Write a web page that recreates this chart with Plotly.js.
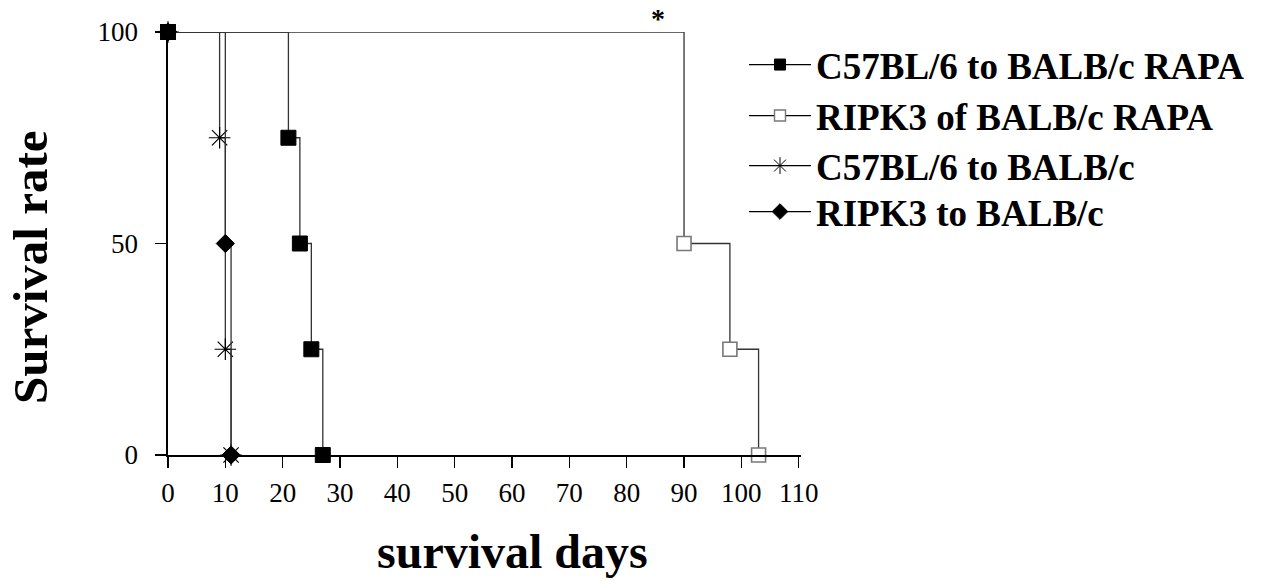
<!DOCTYPE html>
<html>
<head>
<meta charset="utf-8">
<script src="https://cdn.plot.ly/plotly-3.0.1.min.js"></script>
<style>
  html, body { margin: 0; padding: 0; background: #ffffff; }
  #chart { width: 1264px; height: 581px; }
</style>
</head>
<body>
<div id="chart"></div>
<script>
// ---- data ----
const seriesNames = [
  'C57BL/6 to BALB/c RAPA',
  'RIPK3 of BALB/c RAPA',
  'C57BL/6 to BALB/c',
  'RIPK3 to BALB/c'
];
const c57RapaDays = [0, 21, 23, 25, 27];
const c57RapaSurvival = [100, 75, 50, 25, 0];
const ripk3RapaDays = [0, 90, 98, 103];
const ripk3RapaSurvival = [100, 50, 25, 0];
const c57Days = [0, 9, 10, 11];
const c57Survival = [100, 75, 25, 0];
const ripk3Days = [0, 10, 11];
const ripk3Survival = [100, 50, 0];
const xTicks = [0, 10, 20, 30, 40, 50, 60, 70, 80, 90, 100, 110];
const yTicks = [0, 50, 100];
const xTitle = 'survival days';
const yTitle = 'Survival rate';
const significanceMark = { day: 85.5, text: '*' };

// ---- styling ----
const LINE = { color: '#333333', width: 1.3, shape: 'hv' };
const serif = '"Liberation Serif", "Times New Roman", Times, serif';

const markerStyles = [
  { symbol: 'square', size: 15, color: '#000000', line: { color: '#000000', width: 1 } },
  { symbol: 'square', size: 14, color: '#ffffff', line: { color: '#777777', width: 1.6 } },
  { symbol: 'asterisk-open', size: 18, color: '#000000', line: { color: '#000000', width: 1.2 } },
  { symbol: 'diamond', size: 14, color: '#000000', line: { color: '#000000', width: 1 } }
];
const legendMarkerStyles = [
  { symbol: 'square', size: 11, color: '#000000', line: { color: '#000000', width: 1 } },
  { symbol: 'square', size: 11, color: '#ffffff', line: { color: '#777777', width: 1.4 } },
  { symbol: 'asterisk-open', size: 14, color: '#000000', line: { color: '#000000', width: 1 } },
  { symbol: 'diamond', size: 12, color: '#000000', line: { color: '#000000', width: 1 } }
];

const xs = [c57RapaDays, ripk3RapaDays, c57Days, ripk3Days];
const ys = [c57RapaSurvival, ripk3RapaSurvival, c57Survival, ripk3Survival];

// plot area in pixels (used only for placing legend/titles)
const M = { l: 168, r: 463, t: 32, b: 126 };
const PW = 1264 - M.l - M.r, PH = 581 - M.t - M.b;
const px2x = function (px) { return (px - M.l) / PW; };
const px2y = function (py) { return (581 - M.b - py) / PH; };

const legendIds = ['legend', 'legend2', 'legend3', 'legend4'];
const legendRowY = [65, 116, 166, 212];

const traces = [];
[1, 2, 3, 0].forEach(function (i) {
  traces.push({
    type: 'scatter', mode: 'lines+markers',
    x: xs[i], y: ys[i], name: seriesNames[i],
    line: LINE, marker: markerStyles[i],
    cliponaxis: false, showlegend: false, hoverinfo: 'x+y+name'
  });
});
seriesNames.forEach(function (n, i) {
  traces.push({
    type: 'scatter', mode: 'lines+markers',
    x: [null], y: [null], name: n,
    line: { color: '#000000', width: 1.3 },
    marker: legendMarkerStyles[i],
    showlegend: true, legend: legendIds[i]
  });
});

const layout = {
  width: 1264, height: 581,
  paper_bgcolor: '#ffffff', plot_bgcolor: '#ffffff',
  margin: { l: M.l, r: M.r, t: M.t, b: M.b, pad: 0 },
  font: { family: serif, color: '#000000', size: 27 },
  showlegend: true,
  xaxis: {
    range: [0, 110.4], tickvals: xTicks, ticktext: xTicks.map(String),
    showgrid: false, zeroline: false, showline: true, linecolor: '#000000', linewidth: 1.6,
    ticks: 'outside', ticklen: 11, tickwidth: 1.4, tickcolor: '#000000',
    tickfont: { family: serif, size: 27, color: '#000000' },
    ticklabelstandoff: 2
  },
  yaxis: {
    range: [0, 100], tickvals: yTicks, ticktext: yTicks.map(String),
    showgrid: false, zeroline: false, showline: true, linecolor: '#000000', linewidth: 1.6,
    ticks: 'outside', ticklen: 11, tickwidth: 1.4, tickcolor: '#000000',
    tickfont: { family: serif, size: 27, color: '#000000' },
    ticklabelstandoff: 12
  },
  annotations: [
    {
      x: significanceMark.day, y: px2y(0), xref: 'x', yref: 'paper',
      text: significanceMark.text, showarrow: false,
      xanchor: 'center', yanchor: 'top', yshift: -1,
      font: { family: serif, size: 28, weight: 'bold', color: '#000000' }
    },
    {
      x: px2x(512), y: px2y(551), xref: 'paper', yref: 'paper',
      text: xTitle, showarrow: false, xanchor: 'center', yanchor: 'middle',
      font: { family: serif, size: 48, weight: 'bold', color: '#000000' }
    },
    {
      x: px2x(30), y: px2y(267), xref: 'paper', yref: 'paper',
      text: yTitle, showarrow: false, textangle: -90, xanchor: 'center', yanchor: 'middle',
      font: { family: serif, size: 49, weight: 'bold', color: '#000000' }
    }
  ]
};
legendIds.forEach(function (id, i) {
  layout[id] = {
    x: px2x(744), xanchor: 'left', y: px2y(legendRowY[i]), yanchor: 'middle',
    font: { family: serif, size: 37, color: '#000000', weight: 'bold' },
    bgcolor: 'rgba(0,0,0,0)', borderwidth: 0,
    itemwidth: 62, itemclick: false
  };
});

Plotly.newPlot('chart', traces, layout, { displayModeBar: false, staticPlot: true });
</script>
</body>
</html>
